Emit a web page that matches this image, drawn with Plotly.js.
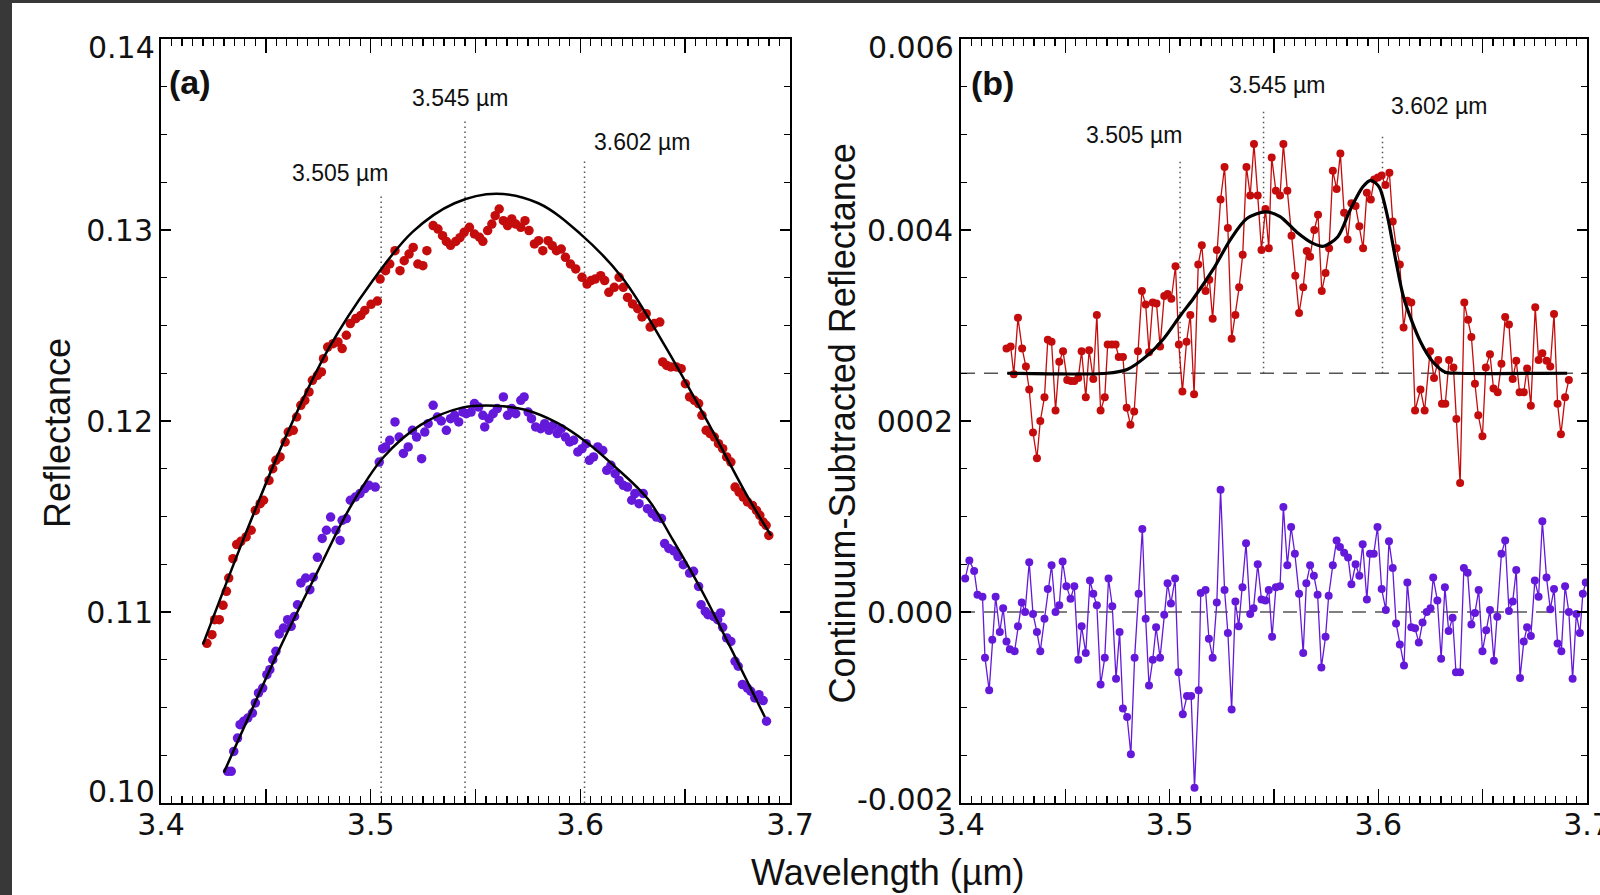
<!DOCTYPE html>
<html>
<head>
<meta charset="utf-8">
<script src="https://cdn.plot.ly/plotly-3.0.1.min.js"></script>
<style>
  html, body { margin:0; padding:0; background:#383838; width:1600px; height:895px; overflow:hidden; }
  #chart { position:absolute; left:12px; top:3px; width:1588px; height:892px; background:#ffffff; }
</style>
</head>
<body>
<div id="chart"></div>
<script>
// ---------- Panel (a): reflectance spectra ----------
const aRedX = [3.4219,3.4243,3.4256,3.4278,3.4296,3.4312,3.4323,3.4343,3.4361,3.4381,3.4406,3.4430,3.4450,3.4473,3.4489,3.4515,3.4533,3.4548,3.4568,3.4592,3.4607,3.4631,3.4647,3.4667,3.4686,3.4706,3.4722,3.4746,3.4765,3.4775,3.4795,3.4821,3.4844,3.4864,3.4884,3.4903,3.4929,3.4953,3.4972,3.5002,3.5032,3.5045,3.5071,3.5091,3.5116,3.5140,3.5160,3.5183,3.5203,3.5225,3.5249,3.5268,3.5298,3.5321,3.5343,3.5361,3.5381,3.5406,3.5426,3.5446,3.5471,3.5495,3.5519,3.5535,3.5558,3.5578,3.5594,3.5613,3.5633,3.5653,3.5673,3.5692,3.5716,3.5736,3.5755,3.5781,3.5801,3.5821,3.5846,3.5866,3.5886,3.5909,3.5929,3.5953,3.5978,3.6008,3.6032,3.6051,3.6071,3.6097,3.6116,3.6136,3.6162,3.6185,3.6205,3.6225,3.6249,3.6274,3.6294,3.6314,3.6333,3.6353,3.6379,3.6393,3.6412,3.6432,3.6458,3.6481,3.6501,3.6521,3.6544,3.6564,3.6580,3.6600,3.6619,3.6639,3.6659,3.6679,3.6698,3.6718,3.6738,3.6757,3.6777,3.6797,3.6821,3.6840,3.6856,3.6872,3.6886,3.6899];
const aRedY = [0.10836,0.10881,0.10960,0.10960,0.11035,0.11108,0.11178,0.11279,0.11353,0.11370,0.11393,0.11428,0.11532,0.11567,0.11585,0.11689,0.11750,0.11794,0.11812,0.11890,0.11942,0.11951,0.12021,0.12082,0.12108,0.12152,0.12213,0.12239,0.12257,0.12326,0.12387,0.12405,0.12414,0.12379,0.12449,0.12510,0.12536,0.12553,0.12579,0.12611,0.12628,0.12743,0.12787,0.12822,0.12892,0.12787,0.12839,0.12874,0.12909,0.12822,0.12813,0.12892,0.13023,0.13005,0.12970,0.12940,0.12920,0.12940,0.12960,0.12988,0.13014,0.12979,0.12962,0.12941,0.12997,0.13031,0.13075,0.13110,0.13049,0.13023,0.13058,0.13031,0.13014,0.13049,0.12997,0.12927,0.12944,0.12892,0.12944,0.12918,0.12892,0.12900,0.12857,0.12822,0.12796,0.12752,0.12717,0.12735,0.12743,0.12761,0.12735,0.12674,0.12700,0.12752,0.12700,0.12647,0.12613,0.12588,0.12545,0.12562,0.12492,0.12510,0.12518,0.12309,0.12291,0.12283,0.12283,0.12274,0.12195,0.12126,0.12108,0.12091,0.12030,0.11951,0.11934,0.11916,0.11881,0.11855,0.11812,0.11785,0.11654,0.11628,0.11602,0.11576,0.11558,0.11532,0.11506,0.11471,0.11454,0.11401];

const aPurX = [3.4318,3.4335,3.4347,3.4365,3.4377,3.4394,3.4414,3.4436,3.4450,3.4465,3.4485,3.4505,3.4519,3.4533,3.4548,3.4564,3.4584,3.4604,3.4621,3.4637,3.4651,3.4667,3.4690,3.4710,3.4726,3.4746,3.4769,3.4789,3.4809,3.4834,3.4854,3.4864,3.4884,3.4903,3.4927,3.4949,3.4972,3.4992,3.5022,3.5041,3.5057,3.5071,3.5091,3.5116,3.5136,3.5156,3.5179,3.5199,3.5219,3.5243,3.5258,3.5274,3.5298,3.5318,3.5337,3.5361,3.5381,3.5400,3.5420,3.5440,3.5456,3.5479,3.5495,3.5515,3.5535,3.5544,3.5564,3.5584,3.5604,3.5633,3.5653,3.5673,3.5692,3.5716,3.5732,3.5751,3.5767,3.5787,3.5811,3.5830,3.5850,3.5870,3.5890,3.5909,3.5929,3.5949,3.5968,3.5988,3.6008,3.6028,3.6043,3.6063,3.6083,3.6107,3.6126,3.6146,3.6166,3.6185,3.6205,3.6225,3.6245,3.6260,3.6280,3.6300,3.6320,3.6343,3.6363,3.6387,3.6402,3.6422,3.6446,3.6466,3.6491,3.6521,3.6540,3.6564,3.6576,3.6596,3.6609,3.6635,3.6655,3.6669,3.6679,3.6698,3.6718,3.6738,3.6753,3.6773,3.6797,3.6813,3.6832,3.6852,3.6872,3.6888];
const aPurY = [0.10166,0.10166,0.10270,0.10340,0.10410,0.10428,0.10445,0.10471,0.10524,0.10576,0.10602,0.10672,0.10698,0.10750,0.10794,0.10885,0.10916,0.10960,0.10925,0.10977,0.11038,0.11152,0.11178,0.11117,0.11182,0.11286,0.11385,0.11428,0.11497,0.11428,0.11375,0.11480,0.11489,0.11585,0.11602,0.11620,0.11646,0.11663,0.11654,0.11785,0.11855,0.11864,0.11899,0.11995,0.11916,0.11830,0.11864,0.11951,0.11916,0.11803,0.11942,0.11986,0.12082,0.12021,0.12000,0.11951,0.12012,0.12030,0.11995,0.12047,0.12038,0.12047,0.12091,0.12073,0.12030,0.11969,0.12012,0.12038,0.12065,0.12126,0.12030,0.12065,0.12038,0.12108,0.12126,0.12047,0.12012,0.11969,0.11960,0.11986,0.11951,0.11977,0.11934,0.11960,0.11916,0.11890,0.11899,0.11838,0.11855,0.11881,0.11794,0.11812,0.11864,0.11846,0.11742,0.11768,0.11724,0.11689,0.11663,0.11654,0.11585,0.11620,0.11567,0.11620,0.11541,0.11515,0.11497,0.11489,0.11358,0.11333,0.11320,0.11290,0.11248,0.11204,0.11213,0.11134,0.11038,0.11003,0.10986,0.10977,0.10960,0.10995,0.10920,0.10864,0.10846,0.10742,0.10716,0.10620,0.10602,0.10585,0.10550,0.10567,0.10536,0.10428];

// continuum fits
const aRedFitX = [3.420,3.440,3.460,3.480,3.500,3.520,3.540,3.560,3.580,3.600,3.620,3.640,3.660,3.680,3.691];
const aRedFitY = [0.1083,0.1140,0.1193,0.1238,0.1272,0.1299,0.1314,0.1319,0.1314,0.1298,0.1275,0.1240,0.1201,0.1160,0.1140];
const aPurFitX = [3.4300,3.4450,3.4588,3.4746,3.4903,3.5061,3.5239,3.5436,3.5594,3.5732,3.5890,3.6028,3.6166,3.6323,3.6440,3.6580,3.6718,3.6880];
const aPurFitY = [0.1016,0.1053,0.1086,0.1121,0.1155,0.1181,0.1198,0.1207,0.1208,0.1206,0.1199,0.1189,0.1176,0.1159,0.1138,0.1111,0.1081,0.1045];

// band positions
const bandWl = [3.505, 3.545, 3.602];
const bandLabels = ['3.505 µm', '3.545 µm', '3.602 µm'];
const aBandTop = [0.1319, 0.1357, 0.1336];
const aLabelX = [3.4854, 3.5425, 3.6294];
const aLabelY = [0.1330, 0.1369, 0.1346];

// ---------- Panel (b): continuum-subtracted ----------
const bRedX = [3.4218,3.4238,3.4253,3.4273,3.4293,3.4311,3.4327,3.4345,3.4364,3.4380,3.4400,3.4416,3.4434,3.4453,3.4471,3.4489,3.4509,3.4527,3.4543,3.4562,3.4578,3.4598,3.4614,3.4634,3.4651,3.4669,3.4689,3.4703,3.4723,3.4741,3.4756,3.4776,3.4794,3.4812,3.4830,3.4848,3.4867,3.4885,3.4901,3.4919,3.4937,3.4954,3.4974,3.4990,3.5008,3.5028,3.5044,3.5061,3.5081,3.5099,3.5117,3.5137,3.5154,3.5172,3.5190,3.5206,3.5226,3.5244,3.5263,3.5279,3.5297,3.5315,3.5333,3.5350,3.5368,3.5386,3.5404,3.5422,3.5440,3.5459,3.5475,3.5489,3.5509,3.5529,3.5545,3.5564,3.5584,3.5602,3.5620,3.5640,3.5657,3.5673,3.5693,3.5711,3.5729,3.5747,3.5764,3.5782,3.5800,3.5818,3.5836,3.5853,3.5871,3.5891,3.5909,3.5927,3.5945,3.5964,3.5980,3.5998,3.6016,3.6034,3.6053,3.6069,3.6087,3.6103,3.6121,3.6139,3.6158,3.6176,3.6202,3.6222,3.6248,3.6267,3.6287,3.6305,3.6321,3.6339,3.6360,3.6374,3.6392,3.6412,3.6430,3.6446,3.6463,3.6479,3.6499,3.6515,3.6535,3.6552,3.6572,3.6590,3.6608,3.6626,3.6644,3.6661,3.6677,3.6697,3.6713,3.6731,3.6752,3.6768,3.6786,3.6806,3.6824,3.6842,3.6859,3.6875,3.6895,3.6913];
const bRedY = [0.00276,0.00278,0.00249,0.00308,0.00276,0.00257,0.00233,0.00188,0.00161,0.00200,0.00225,0.00285,0.00283,0.00211,0.00262,0.00273,0.00243,0.00242,0.00242,0.00245,0.00273,0.00225,0.00274,0.00244,0.00311,0.00211,0.00225,0.00280,0.00280,0.00280,0.00267,0.00267,0.00214,0.00196,0.00210,0.00273,0.00336,0.00322,0.00272,0.00324,0.00323,0.00278,0.00331,0.00333,0.00328,0.00362,0.00280,0.00231,0.00283,0.00311,0.00228,0.00364,0.00384,0.00336,0.00348,0.00307,0.00379,0.00432,0.00466,0.00402,0.00286,0.00311,0.00340,0.00374,0.00466,0.00436,0.00490,0.00436,0.00379,0.00422,0.00381,0.00476,0.00441,0.00436,0.00490,0.00441,0.00394,0.00352,0.00313,0.00340,0.00378,0.00372,0.00400,0.00416,0.00336,0.00355,0.00381,0.00462,0.00443,0.00480,0.00418,0.00390,0.00428,0.00425,0.00404,0.00381,0.00439,0.00432,0.00453,0.00455,0.00457,0.00447,0.00460,0.00409,0.00381,0.00364,0.00298,0.00326,0.00324,0.00211,0.00233,0.00211,0.00273,0.00245,0.00264,0.00218,0.00218,0.00264,0.00256,0.00202,0.00135,0.00324,0.00306,0.00288,0.00239,0.00206,0.00184,0.00256,0.00270,0.00234,0.00230,0.00260,0.00309,0.00301,0.00244,0.00263,0.00230,0.00230,0.00255,0.00216,0.00319,0.00264,0.00271,0.00263,0.00257,0.00312,0.00218,0.00186,0.00225,0.00243];

const bPurX = [3.4020,3.4040,3.4063,3.4079,3.4103,3.4115,3.4135,3.4150,3.4166,3.4186,3.4202,3.4218,3.4234,3.4257,3.4273,3.4291,3.4307,3.4327,3.4345,3.4364,3.4380,3.4400,3.4416,3.4434,3.4453,3.4471,3.4487,3.4505,3.4525,3.4543,3.4562,3.4578,3.4598,3.4618,3.4634,3.4651,3.4669,3.4689,3.4707,3.4725,3.4743,3.4760,3.4776,3.4796,3.4814,3.4832,3.4851,3.4869,3.4885,3.4901,3.4919,3.4935,3.4954,3.4974,3.4990,3.5006,3.5026,3.5042,3.5063,3.5083,3.5103,3.5119,3.5139,3.5149,3.5172,3.5188,3.5206,3.5226,3.5244,3.5263,3.5279,3.5297,3.5315,3.5331,3.5349,3.5366,3.5386,3.5402,3.5422,3.5440,3.5459,3.5475,3.5491,3.5509,3.5529,3.5545,3.5564,3.5582,3.5600,3.5620,3.5640,3.5655,3.5673,3.5691,3.5709,3.5727,3.5747,3.5762,3.5782,3.5800,3.5816,3.5836,3.5855,3.5871,3.5891,3.5909,3.5925,3.5945,3.5960,3.5978,3.5996,3.6016,3.6036,3.6051,3.6069,3.6085,3.6103,3.6123,3.6139,3.6158,3.6176,3.6194,3.6212,3.6232,3.6250,3.6263,3.6283,3.6301,3.6319,3.6337,3.6356,3.6372,3.6392,3.6410,3.6428,3.6446,3.6463,3.6481,3.6499,3.6517,3.6535,3.6554,3.6570,3.6590,3.6608,3.6626,3.6644,3.6661,3.6679,3.6697,3.6713,3.6731,3.6750,3.6768,3.6786,3.6806,3.6824,3.6842,3.6859,3.6877,3.6895,3.6913,3.6931,3.6949,3.6966,3.6980,3.6994];
const bPurY = [0.00035,0.00054,0.00043,0.00018,0.00016,-0.00048,-0.00082,-0.00029,0.00016,-0.00021,0.00004,-0.00031,-0.00039,-0.00041,-0.00015,0.00010,0.00000,0.00052,-0.00002,-0.00021,-0.00041,-0.00007,0.00024,0.00049,0.00000,0.00007,0.00053,0.00027,0.00014,0.00027,-0.00050,-0.00015,-0.00043,0.00033,0.00019,0.00007,-0.00076,-0.00048,0.00035,0.00006,-0.00070,-0.00021,-0.00101,-0.00110,-0.00149,-0.00048,0.00019,0.00087,-0.00007,-0.00077,-0.00050,-0.00016,-0.00048,-0.00003,0.00030,0.00009,0.00035,-0.00063,-0.00107,-0.00088,-0.00088,-0.00184,-0.00082,0.00020,0.00023,-0.00028,-0.00048,0.00010,0.00128,0.00023,-0.00022,-0.00102,0.00011,-0.00015,0.00026,0.00072,-0.00002,0.00004,0.00050,0.00013,0.00012,0.00023,-0.00026,0.00026,0.00027,0.00110,0.00049,0.00089,0.00061,0.00019,-0.00043,0.00030,0.00049,0.00038,0.00018,-0.00058,-0.00026,0.00017,0.00049,0.00075,0.00068,0.00062,0.00057,0.00029,0.00050,0.00038,0.00071,0.00013,0.00061,0.00061,0.00089,0.00024,0.00002,0.00074,0.00046,-0.00012,-0.00034,-0.00056,0.00031,-0.00016,-0.00017,-0.00032,-0.00011,0.00000,0.00004,0.00036,0.00012,-0.00049,0.00026,-0.00020,-0.00006,-0.00063,-0.00063,0.00046,0.00041,-0.00013,-0.00001,0.00023,-0.00041,-0.00019,0.00002,-0.00051,-0.00005,0.00061,0.00075,0.00001,0.00011,0.00044,-0.00069,-0.00031,-0.00016,-0.00025,0.00033,0.00016,0.00095,0.00036,0.00003,0.00024,-0.00033,-0.00041,0.00027,0.00000,-0.00070,-0.00002,-0.00022,0.00019,0.00031];

// Gaussian band model
const bFitX = [3.4222,3.4697,3.4796,3.4895,3.4974,3.5053,3.5113,3.5212,3.5291,3.5370,3.5459,3.5529,3.5608,3.5687,3.5737,3.5806,3.5865,3.5925,3.5964,3.6004,3.6044,3.6083,3.6123,3.6202,3.6261,3.6321,3.6380,3.6905];
const bFitY = [0.00250,0.00250,0.00254,0.00269,0.00287,0.00311,0.00328,0.00360,0.00390,0.00412,0.00419,0.00414,0.00398,0.00386,0.00383,0.00393,0.00421,0.00445,0.00452,0.00445,0.00414,0.00369,0.00328,0.00283,0.00262,0.00251,0.00250,0.00250];

const bBaselines = [0.0025, 0.0];
const bBaseX = [3.4, 3.7];
const bBandBottom = 0.0025;
const bBandTop = [0.00472, 0.00526, 0.00499];
const bLabelX = [3.4829, 3.5514, 3.6290];
const bLabelY = [0.00499, 0.00552, 0.00530];

// axis tick labels (end labels of the y axes sit slightly inside, as in the figure)
const xTickVals = [3.4, 3.45, 3.5, 3.55, 3.6, 3.65, 3.7];
const xTickText = ['3.4', '', '3.5', '', '3.6', '', '3.7'];
const aYTickVals = [0.10, 0.11, 0.12, 0.13, 0.14];
const aYTickText = ['', '0.11', '0.12', '0.13', ''];
const aYEndText = ['0.10', '0.14'];
const bYTickVals = [-0.002, 0.0, 0.002, 0.004, 0.006];
const bYTickText = ['', '0.000', '0002', '0.004', ''];
const bYEndText = ['-0.002', '0.006'];

// ---------- build ----------
const RED = '#c40c0c';
const PUR = '#6419da';
const FONT = 'Liberation Sans, Arial, Helvetica, sans-serif';
const TICKFONT = 'DejaVu Sans, Liberation Sans, Arial, sans-serif';
const traces = [];

bandWl.forEach((w, i) => {
  traces.push({x: [w, w], y: [0.10, aBandTop[i]], xaxis: 'x', yaxis: 'y', mode: 'lines',
    line: {color: '#555', width: 1.5, dash: '1.5px,3.5px'}, hoverinfo: 'skip'});
});
traces.push({x: aRedX, y: aRedY, xaxis: 'x', yaxis: 'y', mode: 'markers', marker: {color: RED, size: 9.5}});
traces.push({x: aPurX, y: aPurY, xaxis: 'x', yaxis: 'y', mode: 'markers', marker: {color: PUR, size: 9.5}});
traces.push({x: aRedFitX, y: aRedFitY, xaxis: 'x', yaxis: 'y', mode: 'lines', line: {color: '#000', width: 2.5, shape: 'spline', smoothing: 1}});
traces.push({x: aPurFitX, y: aPurFitY, xaxis: 'x', yaxis: 'y', mode: 'lines', line: {color: '#000', width: 2.5, shape: 'spline', smoothing: 1}});

bBaselines.forEach(b => {
  traces.push({x: bBaseX, y: [b, b], xaxis: 'x2', yaxis: 'y2', mode: 'lines',
    line: {color: '#555', width: 1.5, dash: '14px,9px'}, hoverinfo: 'skip'});
});
bandWl.forEach((w, i) => {
  traces.push({x: [w, w], y: [bBandBottom, bBandTop[i]], xaxis: 'x2', yaxis: 'y2', mode: 'lines',
    line: {color: '#555', width: 1.5, dash: '1.5px,3.5px'}, hoverinfo: 'skip'});
});
traces.push({x: bRedX, y: bRedY, xaxis: 'x2', yaxis: 'y2', mode: 'lines+markers',
  line: {color: RED, width: 1.3}, marker: {color: RED, size: 8}});
traces.push({x: bPurX, y: bPurY, xaxis: 'x2', yaxis: 'y2', mode: 'lines+markers',
  line: {color: PUR, width: 1.3}, marker: {color: PUR, size: 8}});
traces.push({x: bFitX, y: bFitY, xaxis: 'x2', yaxis: 'y2', mode: 'lines',
  line: {color: '#000', width: 3.2, shape: 'spline', smoothing: 0.8}});

function xAxis(domain, anchor) {
  return {domain: domain, anchor: anchor, range: [3.4, 3.7], tickmode: 'array', tickvals: xTickVals, ticktext: xTickText,
    ticks: 'inside', ticklen: 14, tickwidth: 1.5, tickcolor: '#000', mirror: 'allticks', showline: true, linecolor: '#000', linewidth: 2,
    showgrid: false, zeroline: false, tickfont: {family: TICKFONT, size: 30, color: '#111'},
    ticklabelstandoff: -6, ticklabeloverflow: 'allow',
    minor: {dtick: 0.005, tick0: 3.4, ticks: 'inside', ticklen: 7, tickwidth: 1.2, tickcolor: '#000', showgrid: false}};
}
function yAxis(domain, anchor, range, tv, tt, minorD) {
  return {domain: domain, anchor: anchor, range: range, tickmode: 'array', tickvals: tv, ticktext: tt,
    ticks: 'inside', ticklen: 10, tickwidth: 1.5, tickcolor: '#000', mirror: 'allticks', showline: true, linecolor: '#000', linewidth: 2,
    showgrid: false, zeroline: false, tickfont: {family: TICKFONT, size: 30, color: '#111'},
    ticklabeloverflow: 'allow',
    minor: {dtick: minorD, tick0: range[0], ticks: 'inside', ticklen: 6, tickwidth: 1.2, tickcolor: '#000', showgrid: false}};
}

const annotations = [];
bandWl.forEach((w, i) => {
  annotations.push({x: aLabelX[i], y: aLabelY[i], xref: 'x', yref: 'y', text: bandLabels[i], showarrow: false,
    xanchor: 'center', yanchor: 'middle', font: {family: FONT, size: 23, color: '#111'}});
  annotations.push({x: bLabelX[i], y: bLabelY[i], xref: 'x2', yref: 'y2', text: bandLabels[i], showarrow: false,
    xanchor: 'center', yanchor: 'middle', font: {family: FONT, size: 23, color: '#111'}});
});
// y-axis end labels
const tickFontObj = {family: TICKFONT, size: 30, color: '#111'};
annotations.push({x: 145/1588, y: 1 - 788/892, xref: 'paper', yref: 'paper', text: aYEndText[0], showarrow: false, xanchor: 'right', yanchor: 'middle', font: tickFontObj});
annotations.push({x: 145/1588, y: 1 - 45/892, xref: 'paper', yref: 'paper', text: aYEndText[1], showarrow: false, xanchor: 'right', yanchor: 'middle', font: tickFontObj});
annotations.push({x: 944/1588, y: 1 - 796/892, xref: 'paper', yref: 'paper', text: bYEndText[0], showarrow: false, xanchor: 'right', yanchor: 'middle', font: tickFontObj});
annotations.push({x: 944/1588, y: 1 - 45/892, xref: 'paper', yref: 'paper', text: bYEndText[1], showarrow: false, xanchor: 'right', yanchor: 'middle', font: tickFontObj});

annotations.push({x: 3.4138, y: 0.13775, xref: 'x', yref: 'y', text: '<b>(a)</b>', showarrow: false, xanchor: 'center', yanchor: 'middle', font: {family: FONT, size: 34, color: '#111'}});
annotations.push({x: 3.4149, y: 0.005543, xref: 'x2', yref: 'y2', text: '<b>(b)</b>', showarrow: false, xanchor: 'center', yanchor: 'middle', font: {family: FONT, size: 34, color: '#111'}});
annotations.push({x: 46/1588, y: 1 - 430/892, xref: 'paper', yref: 'paper', text: 'Reflectance', textangle: -90, showarrow: false,
  xanchor: 'center', yanchor: 'middle', font: {family: FONT, size: 36, color: '#111'}});
annotations.push({x: 830/1588, y: 1 - 420.5/892, xref: 'paper', yref: 'paper', text: 'Continuum-Subtracted Reflectance', textangle: -90, showarrow: false,
  xanchor: 'center', yanchor: 'middle', font: {family: FONT, size: 36, color: '#111'}});
annotations.push({x: 876/1588, y: 1 - 869/892, xref: 'paper', yref: 'paper', text: 'Wavelength (µm)', showarrow: false,
  xanchor: 'center', yanchor: 'middle', font: {family: FONT, size: 36, color: '#111'}});

const yDom = [1 - 800/892, 1 - 36/892];
const layout = {
  width: 1588, height: 892, margin: {l: 0, r: 0, t: 0, b: 0, pad: 0},
  paper_bgcolor: '#fff', plot_bgcolor: '#fff', showlegend: false,
  font: {family: FONT, color: '#111'},
  xaxis: xAxis([149/1588, 778/1588], 'y'),
  yaxis: yAxis(yDom, 'x', [0.10, 0.14], aYTickVals, aYTickText, 0.0025),
  xaxis2: xAxis([949/1588, 1575/1588], 'y2'),
  yaxis2: yAxis(yDom, 'x2', [-0.002, 0.006], bYTickVals, bYTickText, 0.0005),
  annotations: annotations
};
Plotly.newPlot('chart', traces, layout, {staticPlot: true});
</script>
</body>
</html>
